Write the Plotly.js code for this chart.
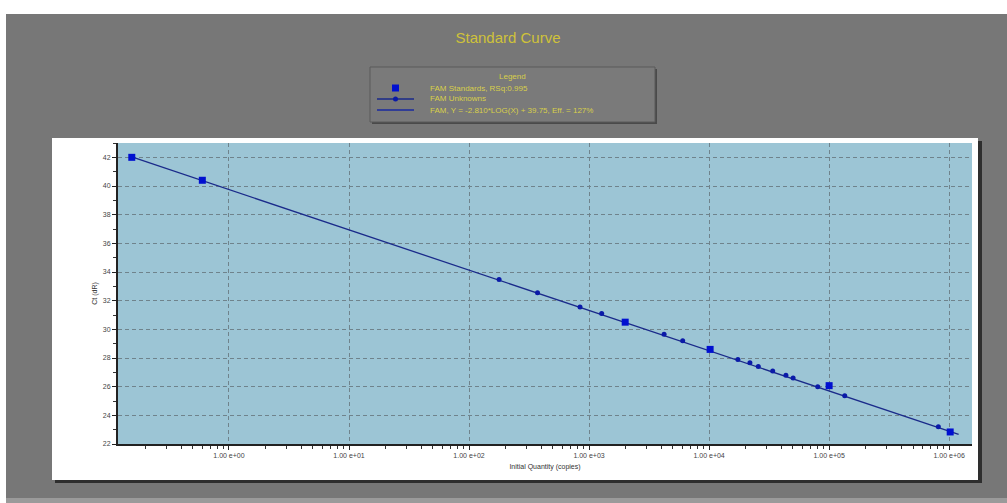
<!DOCTYPE html>
<html>
<head>
<meta charset="utf-8">
<script src="https://cdn.plot.ly/plotly-3.0.1.min.js"></script>
<style>html,body{margin:0;padding:0;background:#777777;}#chart{width:1007px;height:503px;}</style>
</head>
<body>
<div id="chart"></div>
<script>
// Standards (square markers)
const stdQuantity = [0.155, 0.6, 2000, 10200, 100000, 1020000];
const stdCt = [42.0, 40.4, 30.5, 28.6, 26.07, 22.84];
// Unknowns
const unkQuantity = [178, 372, 841, 1274, 4217, 6026, 17380, 21880, 25700, 33880, 43650, 50120, 80350, 134900, 812800];
const unkCt = [33.48, 32.55, 31.55, 31.1, 29.65, 29.2, 27.9, 27.67, 27.4, 27.1, 26.8, 26.6, 26.0, 25.37, 23.2];
// Fit line
const fitSlope = -2.81;
const fitIntercept = 39.75;
const fitRange = [0.155, 1200000];
// Axis ticks
const xTickVals = [1, 10, 100, 1000, 10000, 100000, 1000000];
const xTickText = ['1.00 e+00', '1.00 e+01', '1.00 e+02', '1.00 e+03', '1.00 e+04', '1.00 e+05', '1.00 e+06'];
const legendTitle = 'Legend';
const legendNames = ['FAM Standards, RSq:0.995', 'FAM Unknowns', 'FAM, Y = -2.810*LOG(X) + 39.75, Eff. = 127%'];

const fitY = fitRange.map(q => fitSlope * Math.log10(q) + fitIntercept);

const traces = [
  {x: fitRange, y: fitY, type: 'scatter', mode: 'lines', name: legendNames[2],
   line: {color: '#1a2a8a', width: 1.3}},
  {x: unkQuantity, y: unkCt, type: 'scatter', mode: 'markers', name: legendNames[1],
   marker: {symbol: 'circle', size: 5, color: '#0a1aa8'}},
  {x: stdQuantity, y: stdCt, type: 'scatter', mode: 'markers', name: legendNames[0],
   marker: {symbol: 'square', size: 7, color: '#0010D0'}}
];

// pixel helpers for decorative frame
const L = 118, R = 972, T = 143, B = 444;
const px = v => (v - L) / (R - L);
const py = v => (B - v) / (B - T);

const legColor = '#d8cf4a';
const shapes = [
  {type: 'rect', xref: 'paper', yref: 'paper', x0: px(-5), x1: px(1012), y0: py(14), y1: py(-5), fillcolor: '#ffffff', line: {width: 0}, layer: 'below'},
  {type: 'rect', xref: 'paper', yref: 'paper', x0: px(-5), x1: px(6), y0: py(508), y1: py(-5), fillcolor: '#ffffff', line: {width: 0}, layer: 'below'},
  {type: 'rect', xref: 'paper', yref: 'paper', x0: px(6), x1: px(1012), y0: py(508), y1: py(498), fillcolor: '#9a9a9a', line: {width: 0}, layer: 'below'},
  {type: 'rect', xref: 'paper', yref: 'paper', x0: px(55), x1: px(982), y0: py(483), y1: py(141), fillcolor: '#2e2e2e', line: {width: 0}, layer: 'below'},
  {type: 'rect', xref: 'paper', yref: 'paper', x0: px(52), x1: px(978), y0: py(480), y1: py(138), fillcolor: '#ffffff', line: {width: 0}, layer: 'below'},
  {type: 'rect', xref: 'paper', yref: 'paper', x0: 0, x1: 1, y0: 0, y1: 1, fillcolor: '#9cc5d5', line: {width: 0}, layer: 'below'},
  // legend box with shadow
  {type: 'rect', xref: 'paper', yref: 'paper', x0: px(372), x1: px(657), y0: py(124), y1: py(69), fillcolor: '#4a4a4a', line: {width: 0}, layer: 'below'},
  {type: 'rect', xref: 'paper', yref: 'paper', x0: px(370), x1: px(655), y0: py(122), y1: py(67), fillcolor: '#7a7a7a', line: {color: '#5a5a5a', width: 1}, layer: 'below'},
  // legend samples
  {type: 'rect', xref: 'paper', yref: 'paper', x0: px(392), x1: px(399), y0: py(91.5), y1: py(84.5), fillcolor: '#0010D0', line: {width: 0}},
  {type: 'line', xref: 'paper', yref: 'paper', x0: px(377), x1: px(414), y0: py(99), y1: py(99), line: {color: '#1a2a8a', width: 1.3}},
  {type: 'circle', xref: 'paper', yref: 'paper', x0: px(393), x1: px(398), y0: py(101.5), y1: py(96.5), fillcolor: '#0a1aa8', line: {width: 0}},
  {type: 'line', xref: 'paper', yref: 'paper', x0: px(377), x1: px(414), y0: py(110), y1: py(110), line: {color: '#1a2aa0', width: 1.3}}
];

const legFont = {family: 'Liberation Sans, Arial, sans-serif', size: 8, color: legColor};
const annotations = [
  {text: legendTitle, xref: 'paper', yref: 'paper', x: px(512), y: py(76), xanchor: 'center', yanchor: 'middle', showarrow: false, font: legFont},
  {text: legendNames[0], xref: 'paper', yref: 'paper', x: px(428), y: py(88), xanchor: 'left', yanchor: 'middle', showarrow: false, font: legFont},
  {text: legendNames[1], xref: 'paper', yref: 'paper', x: px(428), y: py(99), xanchor: 'left', yanchor: 'middle', showarrow: false, font: legFont},
  {text: legendNames[2], xref: 'paper', yref: 'paper', x: px(428), y: py(110), xanchor: 'left', yanchor: 'middle', showarrow: false, font: legFont}
];

const tickFont = {family: 'Liberation Sans, Arial, sans-serif', size: 7, color: '#444'};

const layout = {
  width: 1007, height: 503,
  margin: {l: L, r: 1007 - R, t: T, b: 503 - B, pad: 0},
  paper_bgcolor: '#777777',
  plot_bgcolor: '#9cc5d5',
  font: {family: 'Liberation Sans, Arial, sans-serif'},
  title: {text: 'Standard Curve', x: 508 / 1007, xref: 'container', xanchor: 'center', y: 1 - 38 / 503, yref: 'container', yanchor: 'middle',
          font: {size: 15, color: '#cfc23a', family: 'Liberation Sans, Arial, sans-serif'}},
  showlegend: false,
  xaxis: {type: 'log', range: [Math.log10(0.119), Math.log10(1550000)],
          tickmode: 'array', tickvals: xTickVals, ticktext: xTickText, tickfont: tickFont,
          ticks: 'outside', ticklen: 4, tickcolor: '#222',
          showline: true, linecolor: '#222', linewidth: 2, mirror: false,
          showgrid: true, gridcolor: '#6f838c', griddash: '4px,3px', gridwidth: 1,
          minor: {dtick: 'D1', ticks: 'outside', ticklen: 3, tickcolor: '#333', showgrid: false},
          zeroline: false,
          title: {text: 'Initial Quantity (copies)', standoff: 6, font: {size: 7, color: '#333'}}},
  yaxis: {range: [22, 43], tick0: 22, dtick: 2, tickfont: tickFont,
          ticks: 'outside', ticklen: 4, tickcolor: '#222',
          showline: true, linecolor: '#222', linewidth: 2,
          showgrid: true, gridcolor: '#6f838c', griddash: '4px,3px', gridwidth: 1,
          minor: {dtick: 1, ticks: 'outside', ticklen: 3, tickcolor: '#333', showgrid: false},
          zeroline: false,
          title: {text: 'Ct (dR)', standoff: 4, font: {size: 7, color: '#333'}}},
  shapes: shapes,
  annotations: annotations
};

Plotly.newPlot('chart', traces, layout, {staticPlot: true, displayModeBar: false});
</script>
</body>
</html>
